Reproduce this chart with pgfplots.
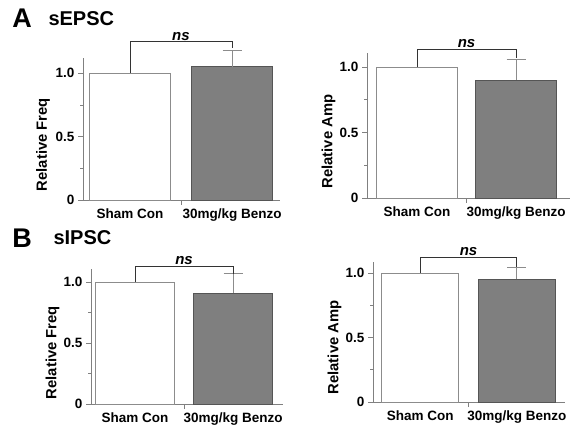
\documentclass[border=0pt]{standalone}
\usepackage{fontspec}
\setmainfont{Liberation Sans}
\usepackage{pgfplots}
\pgfplotsset{compat=1.18}

\definecolor{axgray}{HTML}{808080}
\definecolor{bargray}{HTML}{7F7F7F}
\definecolor{baredge}{HTML}{555555}
\definecolor{whiteedge}{HTML}{8C8C8C}

\newcommand{\tfont}{\fontsize{13.5bp}{15bp}\selectfont\bfseries}
\newcommand{\nsfont}{\fontsize{15bp}{17bp}\selectfont\bfseries\itshape}

\pgfplotsset{
  panel/.style={
    scale only axis,
    clip=false,
    axis lines=left,
    axis line style={-, draw=axgray, line width=0.9bp},
    ybar, bar shift=0pt,
    ymin=0,
    ytick={0,0.5,1}, yticklabels={0,0.5,1.0},
    minor ytick={0.25,0.75},
    tick align=outside,
    major tick length=5bp, minor tick length=3bp,
    tick style={draw=axgray, line width=0.8bp},
    xtick={0.5}, xticklabels={},
    extra x ticks={0,1},
    extra x tick labels={Sham Con,30mg/kg Benzo},
    extra x tick style={tick style={draw=none}},
    tick label style={font=\tfont},
    ylabel style={font=\fontsize{14.8bp}{17bp}\selectfont\bfseries, anchor=center},
    anchor=south west,
  },
  shambar/.style={fill=white, draw=whiteedge, line width=0.9bp},
  benzobar/.style={fill=bargray, draw=baredge, line width=0.9bp,
    error bars/.cd, y dir=plus, y explicit,
    error bar style={draw=gray!90, line width=0.9bp},
    error mark options={rotate=90, mark size=9.5bp, draw=gray!90, line width=0.9bp}},
  bracket/.style={sharp plot, no marks, draw=black!80, line width=0.9bp, forget plot},
}

\begin{document}
\begin{tikzpicture}
\useasboundingbox (0,0) rectangle (578bp,427bp);

\node[font=\fontsize{27bp}{29bp}\selectfont\bfseries] at (22bp,408.5bp) {A};
\node[font=\fontsize{20bp}{22bp}\selectfont\bfseries, anchor=west] at (45bp,408.5bp) {sEPSC};
\node[font=\fontsize{27bp}{29bp}\selectfont\bfseries] at (22bp,189bp) {B};
\node[font=\fontsize{20bp}{22bp}\selectfont\bfseries, anchor=west] at (50bp,189bp) {sIPSC};

% A: sEPSC frequency
\begin{axis}[panel, at={(83bp,227bp)}, width=197bp, height=142bp,
  xmin=-0.46, xmax=1.47, ymax=1.12, bar width=0.80,
  ylabel={Relative Freq}, ylabel style={at={(axis description cs:-0.203,0.39)}}]
  \addplot[shambar] coordinates {(0,1.0)};
  \addplot[benzobar] coordinates {(1,1.05) +- (0,0.13)};
  \addplot[bracket] coordinates {(0,1.0) (0,1.25) (1,1.25) (1,1.20)};
  \node[font=\nsfont, anchor=south, inner sep=1bp] at (axis cs:0.5,1.25) {ns};
\end{axis}

% A: sEPSC amplitude
\begin{axis}[panel, at={(367bp,229bp)}, width=203bp, height=145bp,
  xmin=-0.505, xmax=1.545, ymax=1.107, bar width=0.82,
  ylabel={Relative Amp}, ylabel style={at={(axis description cs:-0.19,0.39)}}]
  \addplot[shambar] coordinates {(0,1.0)};
  \addplot[benzobar] coordinates {(1,0.90) +- (0,0.16)};
  \addplot[bracket] coordinates {(0,1.0) (0,1.137) (1,1.137) (1,1.065)};
  \node[font=\nsfont, anchor=south, inner sep=1bp] at (axis cs:0.5,1.137) {ns};
\end{axis}

% B: sIPSC frequency
\begin{axis}[panel, at={(91bp,23bp)}, width=192bp, height=135bp,
  xmin=-0.45, xmax=1.51, ymax=1.107, bar width=0.80,
  ylabel={Relative Freq}, ylabel style={at={(axis description cs:-0.2,0.38)}}]
  \addplot[shambar] coordinates {(0,1.0)};
  \addplot[benzobar] coordinates {(1,0.91) +- (0,0.16)};
  \addplot[bracket] coordinates {(0,1.0) (0,1.13) (1,1.13) (1,1.07)};
  \node[font=\nsfont, anchor=south, inner sep=1bp] at (axis cs:0.5,1.13) {ns};
\end{axis}

% B: sIPSC amplitude
\begin{axis}[panel, at={(373bp,25bp)}, width=192bp, height=140bp,
  xmin=-0.49, xmax=1.50, ymax=1.085, bar width=0.80,
  ylabel={Relative Amp}, ylabel style={at={(axis description cs:-0.2,0.39)}}]
  \addplot[shambar] coordinates {(0,1.0)};
  \addplot[benzobar] coordinates {(1,0.95) +- (0,0.09)};
  \addplot[bracket] coordinates {(0,1.0) (0,1.124) (1,1.124) (1,1.05)};
  \node[font=\nsfont, anchor=south, inner sep=1bp] at (axis cs:0.5,1.124) {ns};
\end{axis}
\end{tikzpicture}
\end{document}
